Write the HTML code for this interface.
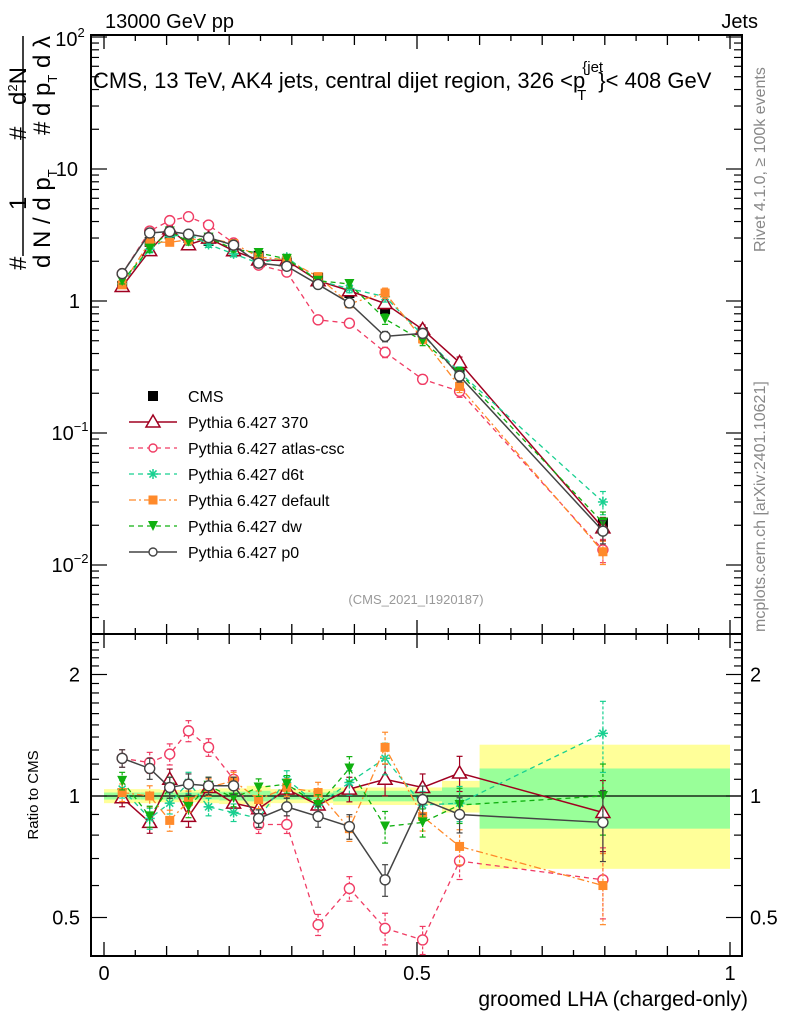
<!DOCTYPE html>
<html><head><meta charset="utf-8"><style>
body{margin:0;background:#fff;}
svg{display:block;font-family:"Liberation Sans",sans-serif;}
</style></head><body>
<svg id="c" width="786" height="1024" viewBox="0 0 786 1024" xmlns="http://www.w3.org/2000/svg">
<g id="bands"></g>
<g id="frames"></g>
<g id="series"></g>
<g id="labels">
<text x="105" y="28" font-size="20">13000 GeV pp</text>
<text x="758" y="28" font-size="20" text-anchor="end">Jets</text>
<text x="93" y="88" font-size="22">CMS, 13 TeV, AK4 jets, central dijet region, 326 &lt;p<tspan font-size="15" dy="-16" dx="-3">{jet</tspan><tspan font-size="15" dy="28" dx="-26">T</tspan><tspan dy="-12" dx="12">}&lt; 408 GeV</tspan></text>
<text x="416" y="604" font-size="13" fill="#999" text-anchor="middle">(CMS_2021_I1920187)</text>
<text x="748" y="1006" font-size="21" text-anchor="end">groomed LHA (charged-only)</text>
<text transform="translate(38,795) rotate(-90)" font-size="15" text-anchor="middle">Ratio to CMS</text>
<text transform="translate(765,252) rotate(-90)" font-size="16" fill="#888">Rivet 4.1.0, ≥ 100k events</text>
<text transform="translate(765,632) rotate(-90)" font-size="16" fill="#888">mcplots.cern.ch [arXiv:2401.10621]</text>
<g font-size="24">
<line x1="23" y1="36" x2="23" y2="256" stroke="#000" stroke-width="1.5"/>
<text transform="translate(26,270) rotate(-90)">#</text>
<text transform="translate(26,210) rotate(-90)">1</text>
<text transform="translate(26,140) rotate(-90)">#</text>
<text transform="translate(26,105) rotate(-90)">d<tspan font-size="13" dy="-9">2</tspan><tspan dy="9">N</tspan></text>
<text transform="translate(50,268) rotate(-90)">d N / d p<tspan font-size="13" dy="7">T</tspan></text>
<text transform="translate(50,135) rotate(-90)">#</text>
<text transform="translate(50,116) rotate(-90)">d p<tspan font-size="13" dy="7">T</tspan><tspan dy="-7"> d λ</tspan></text>
</g>
</g>
<g id="legend"></g>
</svg>
<script>
const xs=[0.029,0.073,0.105,0.135,0.167,0.207,0.247,0.292,0.342,0.392,0.449,0.509,0.568,0.797];
const cmsVals=[1.3,2.8,3.2,3.0,2.85,2.5,2.2,1.95,1.5,1.15,0.87,0.58,0.3,0.021];
const r370=[0.99,0.86,1.10,0.89,1.05,0.96,0.93,1.04,0.95,1.04,1.10,1.05,1.14,0.91];
const rAtlas=[1.24,1.21,1.27,1.45,1.32,1.10,0.85,0.85,0.48,0.59,0.47,0.44,0.69,0.62];
const rD6t=[1.04,0.88,0.96,1.08,0.94,0.91,0.88,1.10,0.95,1.08,1.24,0.95,0.96,1.43];
const rDefault=[1.02,1.0,0.87,0.97,1.05,1.09,0.98,1.05,1.02,0.83,1.32,0.89,0.75,0.60];
const rDw=[1.09,0.89,1.05,0.94,1.06,0.99,1.05,1.07,0.95,1.17,0.84,0.86,0.95,1.0];
const rP0=[1.24,1.17,1.05,1.07,1.06,1.06,0.88,0.94,0.89,0.84,0.62,0.98,0.90,0.86];
const relErr=[0.05,0.06,0.06,0.06,0.05,0.05,0.05,0.05,0.06,0.07,0.09,0.08,0.1,0.2];
const bandEdges=[0,0.058,0.09,0.12,0.152,0.184,0.228,0.266,0.318,0.366,0.422,0.48,0.54,0.6,1.0];
const bandYellow=[0.04,0.04,0.035,0.035,0.04,0.045,0.06,0.04,0.04,0.05,0.05,0.05,0.09,0.34];
const bandGreen=[0.02,0.02,0.02,0.02,0.02,0.025,0.03,0.02,0.02,0.03,0.03,0.03,0.05,0.17];

const NS='http://www.w3.org/2000/svg';
const L=91,R=742,T=35,MB=634,RB=956;
const X=v=>104+v*626;
const Y=v=>301-Math.log10(v)*132;
const YR=v=>796-Math.log2(v)*121.5;
function el(tag,attrs,parent){const e=document.createElementNS(NS,tag);for(const k in attrs)e.setAttribute(k,attrs[k]);parent.appendChild(e);return e;}
const bands=document.getElementById('bands'),frames=document.getElementById('frames'),series=document.getElementById('series'),legend=document.getElementById('legend');

for(let i=0;i<bandYellow.length;i++){
  const x1=X(bandEdges[i]),x2=X(bandEdges[i+1]);
  const y=el('rect',{x:x1,y:YR(1+bandYellow[i]),width:x2-x1,height:YR(1-bandYellow[i])-YR(1+bandYellow[i]),fill:'#ffff99'},bands);
  
  
  const g=el('rect',{x:x1,y:YR(1+bandGreen[i]),width:x2-x1,height:YR(1-bandGreen[i])-YR(1+bandGreen[i]),fill:'#99ff99'},bands);
  
  
}
el('line',{x1:L,x2:R,y1:YR(1),y2:YR(1),stroke:'#000','stroke-width':1.3},frames);

for(const [t,b] of [[T,MB],[MB,RB]]){
  el('rect',{x:L,y:t,width:R-L,height:b-t,fill:'none',stroke:'#000','stroke-width':2},frames);
  for(let k=0;k<=20;k++){const v=k*0.05;const x=X(v);const len=(k%10==0)?14:(k%2==0?10:6);
    el('line',{x1:x,x2:x,y1:b,y2:b-len,stroke:'#000','stroke-width':1.3},frames);
    el('line',{x1:x,x2:x,y1:t,y2:t+len,stroke:'#000','stroke-width':1.3},frames);}
}
for(let d=-3;d<=2;d++){for(let m=1;m<10;m++){const v=m*Math.pow(10,d);if(v>100.01)continue;const y=Y(v);if(y>MB||y<T)continue;
  const len=m==1?16:8;
  el('line',{x1:L,x2:L+len,y1:y,y2:y,stroke:'#000','stroke-width':1.2},frames);
  el('line',{x1:R,x2:R-len,y1:y,y2:y,stroke:'#000','stroke-width':1.2},frames);}}
const yl=[[100,'10','2'],[10,'10',''],[1,'1',''],[0.1,'10','−1'],[0.01,'10','−2']];
for(const [v,b,e] of yl){const t=el('text',{x:e?70:(b=='1'?80:75),y:Y(v)+7,'font-size':20,'text-anchor':e?'middle':'end'},frames);
  if(v==10){t.setAttribute('x',78);}
  if(v==100){t.setAttribute('x',70);t.setAttribute('y',Y(v)+9);}
  t.textContent=b; if(e){const s=el('tspan',{'font-size':13,dy:-9},t);s.textContent=e;}
  
  }
for(let v=0.4;v<=2.5;v+=0.1){const y=YR(v);if(y<MB||y>RB)continue;const maj=Math.abs(v-0.5)<1e-6||Math.abs(v-1)<1e-6||Math.abs(v-2)<1e-6;
  el('line',{x1:L,x2:L+(maj?16:8),y1:y,y2:y,stroke:'#000','stroke-width':1.2},frames);
  el('line',{x1:R,x2:R-(maj?16:8),y1:y,y2:y,stroke:'#000','stroke-width':1.2},frames);}
for(const [v,s] of [[2,'2'],[1,'1'],[0.5,'0.5']]){
  const a=el('text',{x:80,y:YR(v)+7,'font-size':20,'text-anchor':'end'},frames);a.textContent=s;
  
  
  const b=el('text',{x:750,y:YR(v)+7,'font-size':20},frames);b.textContent=s;
  
  }
for(const [v,s] of [[0,'0'],[0.5,'0.5'],[1,'1']]){const t=el('text',{x:X(v),y:980,'font-size':20,'text-anchor':'middle'},frames);t.textContent=s;
  
  }

const defs=[
 {name:'cms',label:'CMS',r:null,color:'#000',dash:'',marker:'sq',w:0},
 {name:'370',label:'Pythia 6.427 370',r:r370,color:'#a00020',dash:'',marker:'tri',w:1.5},
 {name:'atlas-csc',label:'Pythia 6.427 atlas-csc',r:rAtlas,color:'#f03c64',dash:'5,4',marker:'circ',w:1.3},
 {name:'d6t',label:'Pythia 6.427 d6t',r:rD6t,color:'#18d090',dash:'5,4',marker:'star',w:1.3},
 {name:'default',label:'Pythia 6.427 default',r:rDefault,color:'#ff8a2a',dash:'7,3,2,3',marker:'fsq',w:1.3},
 {name:'dw',label:'Pythia 6.427 dw',r:rDw,color:'#10b010',dash:'5,4',marker:'tdn',w:1.3},
 {name:'p0',label:'Pythia 6.427 p0',r:rP0,color:'#444',dash:'',marker:'circ',w:1.5}];
function marker(m,x,y,c,g,s){s=s||1;
  if(m=='sq')el('rect',{x:x-5*s,y:y-5*s,width:10*s,height:10*s,fill:'#000'},g);
  else if(m=='fsq')el('rect',{x:x-4.5*s,y:y-4.5*s,width:9*s,height:9*s,fill:c},g);
  else if(m=='tri')el('polygon',{points:`${x},${y-7*s} ${x-7*s},${y+5*s} ${x+7*s},${y+5*s}`,fill:'#fff',stroke:c,'stroke-width':1.5},g);
  else if(m=='tdn')el('polygon',{points:`${x-5*s},${y-5*s} ${x+5*s},${y-5*s} ${x},${y+5*s}`,fill:c},g);
  else if(m=='circ')el('circle',{cx:x,cy:y,r:5*s,fill:'#fff',stroke:c,'stroke-width':1.4},g);
  else if(m=='star'){for(const a of [0,45,90,135]){const dx=5*Math.cos(a*Math.PI/180),dy=5*Math.sin(a*Math.PI/180);el('line',{x1:x-dx,y1:y-dy,x2:x+dx,y2:y+dy,stroke:c,'stroke-width':1.5},g);}}
}
defs.forEach((d,si)=>{
  const g=el('g',{},series);
  
  
  const main=xs.map((x,i)=>cmsVals[i]*(d.r?d.r[i]:1));
  if(d.r){
    el('polyline',{points:xs.map((x,i)=>X(x)+','+Y(main[i])).join(' '),fill:'none',stroke:d.color,'stroke-width':d.w,'stroke-dasharray':d.dash},g);
    el('polyline',{points:xs.map((x,i)=>X(x)+','+YR(d.r[i])).join(' '),fill:'none',stroke:d.color,'stroke-width':d.w,'stroke-dasharray':d.dash},g);
  }
  xs.forEach((x,i)=>{
    const e=relErr[i];const px=X(x);
    const rv=d.r?d.r[i]:1;
    if(d.r){
      for(const [yy,fn] of [[main[i],Y],[rv,YR]]){
        const y1=fn(yy*(1+e)),y2=fn(yy*(1-e));
        el('line',{x1:px,x2:px,y1:y1,y2:y2,stroke:d.color,'stroke-width':1.2,'stroke-dasharray':d.dash?'3,2':''},g);
        el('line',{x1:px-3,x2:px+3,y1:y1,y2:y1,stroke:d.color,'stroke-width':1.2},g);
        el('line',{x1:px-3,x2:px+3,y1:y2,y2:y2,stroke:d.color,'stroke-width':1.2},g);
      }
      marker(d.marker,px,YR(rv),d.color,g);
    }
    marker(d.marker,px,Y(main[i]),d.color,g);
  });
  const ly=396+si*26;
  const lg=el('g',{},legend);
  
  
  if(d.r)el('line',{x1:129,x2:177,y1:ly,y2:ly,stroke:d.color,'stroke-width':d.w,'stroke-dasharray':d.dash},lg);
  marker(d.marker,153,ly,d.color,lg,d.marker=='circ'?0.8:1);
  const t=el('text',{x:188,y:ly+6,'font-size':16},lg);t.textContent=d.label;
});
</script>
</body></html>
